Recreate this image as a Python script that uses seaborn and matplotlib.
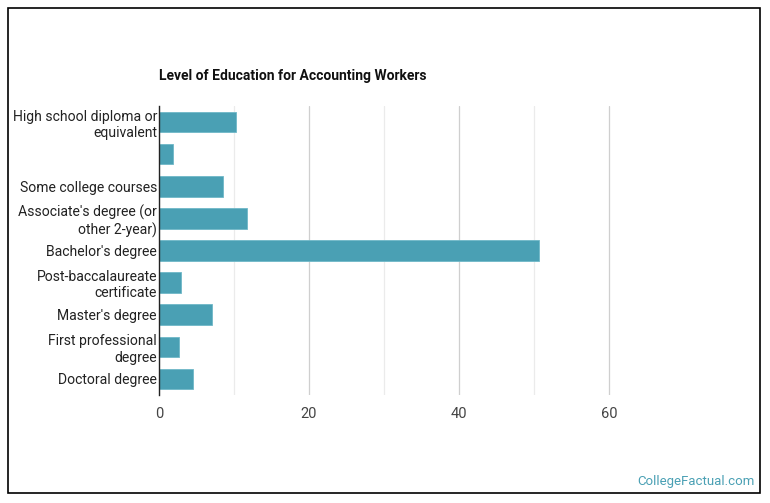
import matplotlib
matplotlib.use("Agg")
import matplotlib.pyplot as plt
import seaborn as sns
import pandas as pd
from matplotlib.patches import Rectangle
from matplotlib.ticker import FixedLocator

categories = [
    "High school diploma or\nequivalent",
    " ",
    "Some college courses",
    "Associate's degree (or\nother 2-year)",
    "Bachelor's degree",
    "Post-baccalaureate\ncertificate",
    "Master's degree",
    "First professional\ndegree",
    "Doctoral degree",
]
values = [10.3, 1.8, 8.5, 11.7, 50.7, 2.9, 7.0, 2.6, 4.5]
xticks = [0, 20, 40, 60]
minor_grid = [10, 30, 50]

sns.set_theme(style="white")
plt.rcParams["font.family"] = ["Roboto", "DejaVu Sans"]

df = pd.DataFrame({"cat": categories, "val": values})

fig = plt.figure(figsize=(7.7, 5.03), dpi=100)
ax = fig.add_axes([159 / 770, 1 - 395 / 503, 600 / 770, 289 / 503])

sns.barplot(data=df, x="val", y="cat", ax=ax, color="#4aa0b4",
            saturation=1, width=0.64, orient="h")
for p in ax.patches:
    p.set_edgecolor("#6fb8c8")
    p.set_linewidth(0.6)

ax.set_xlim(0, 80)
ax.xaxis.set_major_locator(FixedLocator(xticks))
ax.xaxis.set_minor_locator(FixedLocator(minor_grid))
ax.grid(axis="x", which="major", color="#cfcfcf", linewidth=0.9)
ax.grid(axis="x", which="minor", color="#ebebeb", linewidth=0.9)
ax.set_axisbelow(True)
ax.set_xlabel("")
ax.set_ylabel("")
for s in ["top", "right", "bottom"]:
    ax.spines[s].set_visible(False)
ax.spines["left"].set_color("#222222")
ax.spines["left"].set_linewidth(1)
ax.tick_params(axis="x", which="both", length=0, pad=9, labelsize=10.5, labelcolor="#444444")
ax.tick_params(axis="y", length=0, pad=1.5, labelsize=10.1, labelcolor="#222222")
for lbl in ax.get_yticklabels():
    lbl.set_linespacing(1.2)

fig.text(159 / 770, 1 - 76 / 503, "Level of Education for Accounting Workers",
         fontsize=10, fontweight="bold", color="#111111", va="center", ha="left")
fig.text(755 / 770, 1 - 481 / 503, "CollegeFactual.com", fontsize=9.5,
         color="#4aa0b4", ha="right", va="center")

fig.patches.append(Rectangle((8 / 770, 1 - 493 / 503), 752 / 770, 485 / 503,
                             transform=fig.transFigure, fill=False,
                             edgecolor="black", linewidth=1.2))

fig.savefig("out.png", dpi=100)
